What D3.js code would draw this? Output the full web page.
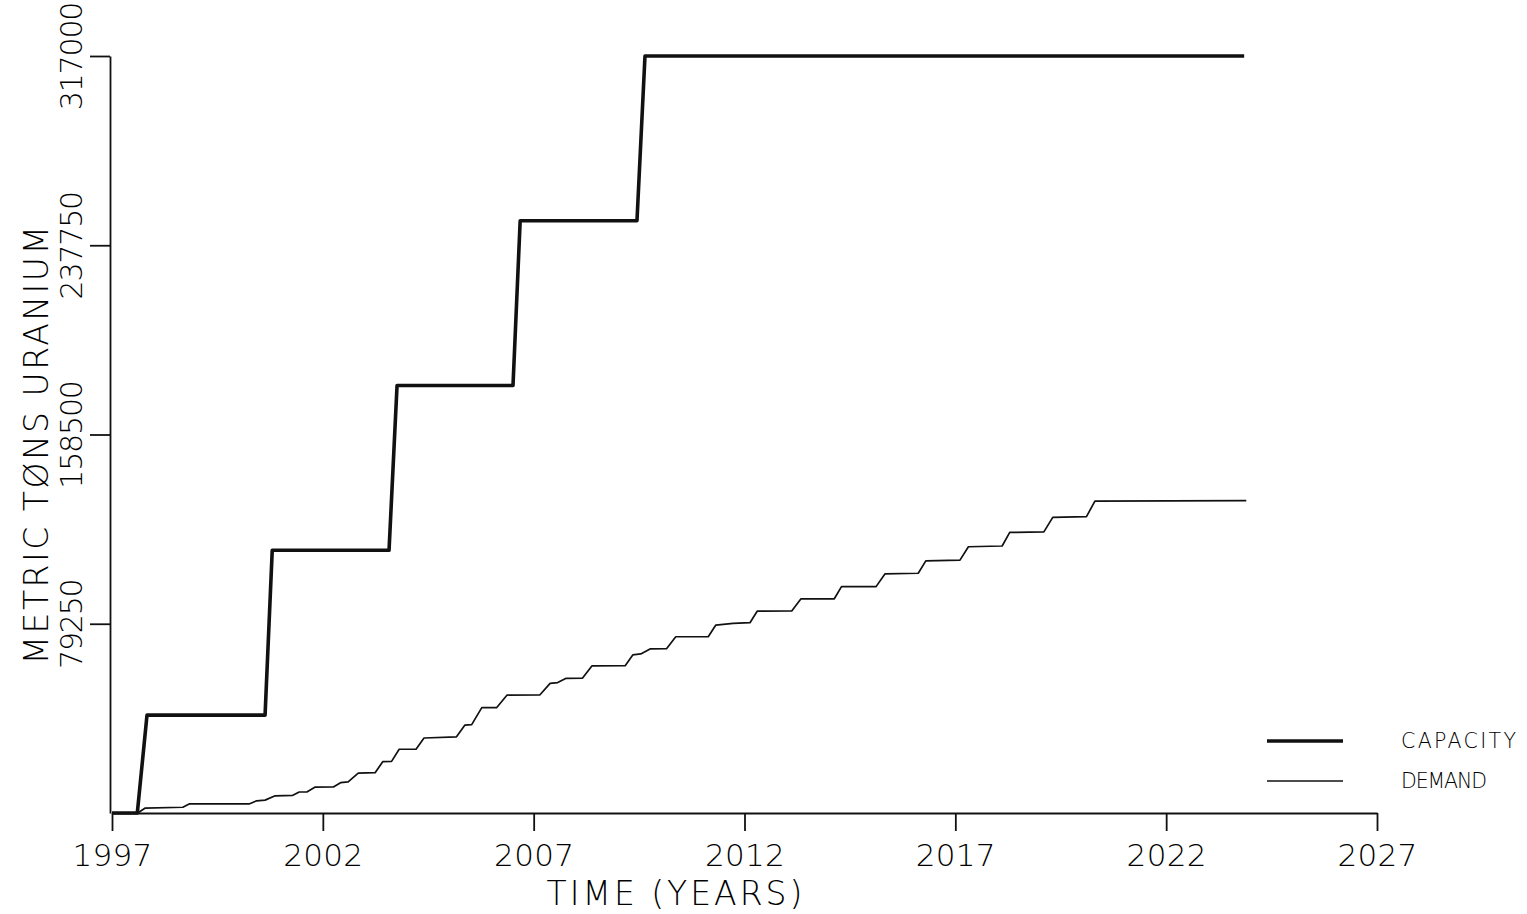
<!DOCTYPE html>
<html>
<head>
<meta charset="utf-8">
<script src="https://cdn.jsdelivr.net/npm/d3@7"></script>
<style>
  html, body { margin: 0; padding: 0; background: #fff; }
  svg text {
    font-family: "DejaVu Sans", "Liberation Sans", sans-serif;
    font-weight: 200;
    fill: #000;
  }
</style>
</head>
<body>
<svg id="chart" width="1527" height="914"></svg>
<script>
// Capacity: stepped build-out of plant capacity (metric tons uranium)
const capacityYears = [1997.0, 1997.60, 1997.83, 2000.63, 2000.80, 2003.57, 2003.76, 2006.51, 2006.68, 2009.45, 2009.64, 2023.85];
const capacityTons  = [0, 0, 41000, 41000, 110000, 110000, 179000, 179000, 248000, 248000, 317000, 317000];

// Demand: cumulative demand, rising in small yearly steps
const demandYears = [
  1997.61, 1997.78, 1998.68, 1998.83, 2000.25, 2000.43, 2000.63, 2000.87, 2001.29, 2001.44,
  2001.62, 2001.81, 2002.25, 2002.42, 2002.60, 2002.84, 2003.24, 2003.42, 2003.63, 2003.81,
  2004.21, 2004.40, 2005.17, 2005.37, 2005.53, 2005.77, 2006.12, 2006.37, 2007.15, 2007.39,
  2007.57, 2007.77, 2008.16, 2008.38, 2009.17, 2009.35, 2009.54, 2009.76, 2010.15, 2010.37,
  2011.14, 2011.32, 2011.73, 2012.13, 2012.30, 2013.12, 2013.34, 2014.13, 2014.30, 2015.12,
  2015.33, 2016.12, 2016.30, 2017.11, 2017.31, 2018.11, 2018.29, 2019.10, 2019.31, 2020.11,
  2020.31, 2023.90
];
const demandTons = [
  0, 2000, 2400, 3800, 3800, 5100, 5400, 7200, 7400, 8800,
  8800, 10800, 10900, 12700, 13000, 16700, 16900, 21500, 21600, 26700,
  26700, 31400, 31900, 36800, 37000, 44100, 44100, 49400, 49500, 54300,
  54600, 56400, 56500, 61600, 61700, 66200, 66600, 68700, 68800, 73800,
  73800, 78700, 79400, 79700, 84500, 84600, 89700, 89700, 94800, 94800,
  100100, 100400, 105600, 105900, 111500, 111800, 117500, 117700, 123800, 124100,
  130600, 130800
];

// Axis ticks
const yearTicks = [1997, 2002, 2007, 2012, 2017, 2022, 2027];
const tonTicks  = [79250, 158500, 237750, 317000];

// Legend entries
const seriesNames = ["CAPACITY", "DEMAND"];

const svg = d3.select("#chart");

const x = d3.scaleLinear().domain([1997, 2027]).range([112, 1377]);
const y = d3.scaleLinear().domain([0, 317000]).range([813, 56]);

const ink = "#111";

// X axis along the bottom, ticks hanging below the line
const xAxis = svg.append("g")
  .attr("transform", `translate(0,${y(0)})`)
  .call(d3.axisBottom(x)
    .tickValues(yearTicks)
    .tickSize(18)
    .tickSizeOuter(0)
    .tickFormat(d3.format("d")));
xAxis.select(".domain").attr("stroke", ink).attr("stroke-width", 1.8);
xAxis.selectAll(".tick line").attr("stroke", ink).attr("stroke-width", 1.8);
xAxis.selectAll(".tick text")
  .attr("font-size", 31)
  .attr("font-family", null)
  .attr("fill", "#000")
  .attr("dy", 0)
  .attr("y", 53)
  .attr("letter-spacing", 0.3);

// Y axis on the left, labels turned to read upward
const yAxis = svg.append("g")
  .attr("transform", `translate(${x(1997) - 2},0)`)
  .call(d3.axisLeft(y)
    .tickValues(tonTicks)
    .tickSize(20)
    .tickSizeOuter(0)
    .tickFormat(d3.format("d")));
yAxis.select(".domain").attr("stroke", ink).attr("stroke-width", 1.8);
yAxis.selectAll(".tick line").attr("stroke", ink).attr("stroke-width", 1.8);
yAxis.selectAll(".tick text")
  .attr("font-size", 30)
  .attr("font-family", null)
  .attr("fill", "#000")
  .attr("x", 0)
  .attr("y", -28)
  .attr("dy", 0)
  .attr("text-anchor", "middle")
  .attr("letter-spacing", -1.2)
  .attr("transform", "rotate(-90)");

// Axis titles
svg.append("text")
  .attr("x", 676)
  .attr("y", 905)
  .attr("text-anchor", "middle")
  .attr("font-size", 33)
  .attr("letter-spacing", 3)
  .text("TIME (YEARS)");

svg.append("text")
  .attr("transform", "translate(48,444) rotate(-90)")
  .attr("text-anchor", "middle")
  .attr("font-size", 33)
  .attr("letter-spacing", 2.5)
  .text("METRIC TØNS URANIUM");

// Series lines
const line = d3.line()
  .x(d => x(d[0]))
  .y(d => y(d[1]));

const capacityData = capacityYears.map((yr, i) => [yr, capacityTons[i]]);
const demandData = demandYears.map((yr, i) => [yr, demandTons[i]]);

svg.append("path")
  .datum(capacityData)
  .attr("fill", "none")
  .attr("stroke", ink)
  .attr("stroke-width", 3.6)
  .attr("stroke-linejoin", "round")
  .attr("d", line);

svg.append("path")
  .datum(demandData)
  .attr("fill", "none")
  .attr("stroke", ink)
  .attr("stroke-width", 1.7)
  .attr("stroke-linejoin", "round")
  .attr("d", line);

// Legend
const legendWidths = [3.6, 1.3];
const legendTextLen = [115, 86];
const legendY = [741, 781];
const legend = svg.append("g");
seriesNames.forEach((name, i) => {
  legend.append("line")
    .attr("x1", 1267).attr("x2", 1343)
    .attr("y1", legendY[i]).attr("y2", legendY[i])
    .attr("stroke", ink)
    .attr("stroke-width", legendWidths[i]);
  legend.append("text")
    .attr("x", 1401)
    .attr("y", legendY[i] + 7)
    .attr("font-size", 20.5)
    .attr("textLength", legendTextLen[i])
    .attr("lengthAdjust", "spacing")
    .text(name);
});
</script>
</body>
</html>
